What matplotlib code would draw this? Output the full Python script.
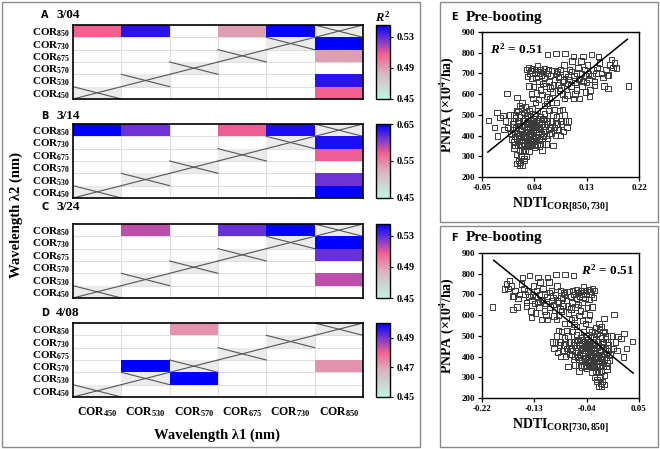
import numpy as np
import matplotlib
matplotlib.use("Agg")
import matplotlib.pyplot as plt
from matplotlib.colors import LinearSegmentedColormap, Normalize
from matplotlib.patches import Rectangle
import matplotlib.cm as cm

plt.rcParams['font.family'] = ['Liberation Serif', 'DejaVu Sans']
plt.rcParams['font.weight'] = 'bold'
plt.rcParams['axes.labelweight'] = 'bold'
plt.rcParams['axes.titleweight'] = 'bold'
plt.rcParams['mathtext.fontset'] = 'custom'
plt.rcParams['mathtext.rm'] = 'Liberation Serif:bold'
plt.rcParams['mathtext.it'] = 'Liberation Serif:italic:bold'
plt.rcParams['mathtext.bf'] = 'Liberation Serif:bold'

# ---------------- data ----------------
col_bands = ['450', '530', '570', '675', '730', '850']   # lambda1 (x)
row_bands = ['850', '730', '675', '570', '530', '450']   # lambda2 (y, top->bottom)
nan = np.nan
D_ = -1.0  # diagonal marker

panel_letters = ['A', 'B', 'C', 'D']
panel_dates = ['3/04', '3/14', '3/24', '4/08']

r2_A = [[0.507, 0.538, nan, 0.490, 0.545, D_],
        [nan, nan, nan, nan, D_, 0.545],
        [nan, nan, nan, D_, nan, 0.490],
        [nan, nan, D_, nan, nan, nan],
        [nan, D_, nan, nan, nan, 0.538],
        [D_, nan, nan, nan, nan, 0.507]]
r2_B = [[0.650, 0.612, nan, 0.572, 0.640, D_],
        [nan, nan, nan, nan, D_, 0.640],
        [nan, nan, nan, D_, nan, 0.572],
        [nan, nan, D_, nan, nan, nan],
        [nan, D_, nan, nan, nan, 0.612],
        [D_, nan, nan, nan, nan, 0.650]]
r2_C = [[nan, 0.515, nan, 0.528, 0.545, D_],
        [nan, nan, nan, nan, D_, 0.545],
        [nan, nan, nan, D_, nan, 0.528],
        [nan, nan, D_, nan, nan, nan],
        [nan, D_, nan, nan, nan, 0.515],
        [D_, nan, nan, nan, nan, nan]]
r2_D = [[nan, nan, 0.4725, nan, nan, D_],
        [nan, nan, nan, nan, D_, nan],
        [nan, nan, nan, D_, nan, nan],
        [nan, 0.500, D_, nan, nan, 0.4725],
        [nan, D_, 0.500, nan, nan, nan],
        [D_, nan, nan, nan, nan, nan]]
r2_mats = [r2_A, r2_B, r2_C, r2_D]
cbar_ranges = [(0.45, 0.545), (0.45, 0.65), (0.45, 0.545), (0.45, 0.50)]
cbar_ticks = [[0.45, 0.49, 0.53], [0.45, 0.55, 0.65], [0.45, 0.49, 0.53], [0.45, 0.47, 0.49]]

# scatter data for panel E: NDTI_COR[850,730] vs PNPA
ndti_E = [0.002, 0.004, 0.005, 0.006, 0.007, 0.008, 0.009, 0.010, 0.010, 0.011, 0.012, 0.012, 0.013, 0.014,
          0.014, 0.015, 0.015, 0.016, 0.017, 0.017, 0.018, 0.018, 0.019, 0.020, 0.020, 0.021, 0.021, 0.022,
          0.022, 0.023, 0.023, 0.024, 0.025, 0.025, 0.026, 0.026, 0.027, 0.027, 0.028, 0.028, 0.029, 0.030,
          0.030, 0.031, 0.031, 0.032, 0.033, 0.033, 0.034, 0.034, 0.035, 0.036, 0.036, 0.037, 0.038, 0.038,
          0.039, 0.040, 0.040, 0.041, 0.042, 0.043, 0.044, 0.045, 0.045, 0.046, 0.047, 0.048, 0.049, 0.050,
          0.051, 0.052, 0.053, 0.054, 0.055, 0.056, 0.058, 0.060, 0.062, 0.064,
          0.013, 0.016, 0.019, 0.024, 0.027, 0.029, 0.032, 0.035, 0.037, 0.041, 0.044, 0.047, 0.011, 0.015,
          0.020, 0.026, 0.030, 0.033, 0.039, 0.043, 0.008, 0.006, 0.003, 0.012, 0.018, 0.022, 0.016, 0.019,
          0.014, 0.025, 0.028, 0.035, 0.042, 0.048, 0.052, 0.057, 0.061, 0.066, 0.068, 0.070,
          0.072, 0.074, 0.078, 0.080, 0.083, 0.086, 0.088, 0.090, 0.092, 0.075, 0.070, 0.082, 0.094, 0.072,
          0.060, 0.085, 0.096, 0.065, 0.058, 0.062,
          -0.039, -0.028, -0.024, -0.023, -0.019, -0.014, -0.010, -0.007, -0.005, -0.002, 0.000, -0.012,
          0.027, 0.028, 0.030, 0.032, 0.034, 0.036, 0.037, 0.039, 0.040, 0.042, 0.043, 0.044, 0.045, 0.046,
          0.048, 0.049, 0.050, 0.051, 0.052, 0.053, 0.054, 0.055, 0.056, 0.057, 0.058, 0.060, 0.061, 0.062,
          0.063, 0.064, 0.065, 0.067, 0.068, 0.070, 0.071, 0.073, 0.074, 0.075, 0.077, 0.078, 0.080, 0.081,
          0.082, 0.084, 0.085, 0.086, 0.088, 0.090, 0.091, 0.093, 0.094, 0.096, 0.097, 0.098, 0.100, 0.101,
          0.103, 0.104, 0.105, 0.107, 0.107, 0.108, 0.110, 0.112, 0.113, 0.115, 0.116, 0.118, 0.118, 0.120,
          0.121, 0.122, 0.124, 0.124, 0.126, 0.128, 0.130, 0.131, 0.133, 0.134, 0.136, 0.138, 0.139, 0.141,
          0.143, 0.144, 0.146, 0.148, 0.150, 0.152, 0.155, 0.158, 0.160, 0.163, 0.166, 0.167, 0.168, 0.170,
          0.173, 0.175, 0.178, 0.181, 0.202, 0.135, 0.128, 0.110, 0.092, 0.088, 0.066, 0.078, 0.070, 0.083,
          0.095, 0.035, 0.038, 0.042, 0.047, 0.031,
          0.001, 0.005, 0.009, 0.055, 0.063, 0.067, 0.076, 0.079, 0.087, 0.099, 0.053, 0.049, 0.010, 0.004]
pnpa = [430, 470, 500, 395, 355, 440, 520, 585, 265, 410, 355, 470, 280, 545,
        330, 450, 255, 390, 500, 300, 425, 355, 560, 470, 255, 330, 395, 445,
        510, 365, 280, 480, 420, 540, 350, 455, 390, 300, 500, 430, 360, 470,
        405, 325, 520, 445, 380, 490, 355, 420, 460, 400, 530, 440, 370, 480,
        415, 455, 345, 500, 430, 390, 470, 360, 520, 440, 405, 460, 380, 490,
        430, 410, 455, 360, 480, 420, 445, 400, 470, 430,
        400, 430, 410, 395, 460, 440, 410, 430, 470, 395, 420, 480, 460, 490,
        375, 375, 350, 455, 385, 450, 485, 415, 455, 515, 530, 290, 270, 330,
        370, 330, 355, 375, 355, 420, 470, 505, 455, 410, 440, 470,
        500, 525, 490, 455, 520, 470, 525, 420, 500, 440, 410, 430, 470, 352,
        360, 400, 440, 520, 545, 555,
        472, 440, 512, 398, 488, 496, 470, 604, 440, 500, 410, 430,
        720, 685, 730, 700, 715, 677, 725, 637, 700, 720, 680, 605, 735, 700,
        660, 720, 717, 620, 690, 597, 710, 650, 709, 680, 725, 640, 588, 700,
        790, 717, 660, 629, 690, 715, 610, 645, 714, 670, 795, 700, 709, 645,
        680, 685, 720, 630, 660, 669, 740, 795, 700, 596, 650, 685, 720, 670,
        640, 709, 760, 580, 782, 690, 655, 701, 620, 730, 670, 677, 580, 760,
        700, 640, 660, 782, 720, 690, 655, 740, 701, 670, 620, 790, 690, 717,
        660, 644, 700, 730, 782, 750, 700, 680, 640, 720, 690, 628, 693, 740,
        766, 730, 750, 726, 640, 590, 610, 600, 580, 600, 580, 560, 560, 620,
        625, 600, 580, 560, 575, 640,
        380, 340, 310, 395, 385, 470, 400, 430, 455, 470, 330, 350, 385, 370]
fit_E = (2270.0, 411.0)        # slope, intercept
fit_E_xrange = [-0.04, 0.20]
r2_E = 0.51

# ---------------- figure ----------------
W, H = 660, 449
fig = plt.figure(figsize=(W / 100, H / 100), dpi=100)
fig.patch.set_facecolor('white')

def fx(px):
    return px / W

def fy(py):
    return 1 - py / H

# panel frames
for (x0, y0, x1, y1) in [(2, 2, 420, 447), (440, 2, 658, 222), (440, 226, 658, 447)]:
    fig.add_artist(Rectangle((fx(x0), fy(y1)), fx(x1 - x0), (y1 - y0) / H,
                             transform=fig.transFigure, fill=False,
                             edgecolor='#8a8a8a', lw=1.0))

cmap = LinearSegmentedColormap.from_list(
    'r2', [(0.0, '#bff5e0'), (0.35, '#d8b6c0'), (0.6, '#f46090'),
           (0.8, '#7636d2'), (1.0, '#0000ff')])

heat_tops = [25, 124, 224, 323]
title_y = [15, 116, 207, 313]
for k in range(4):
    top = heat_tops[k]
    ax = fig.add_axes([fx(73), fy(top + 74), fx(290), 74 / H])
    mat = np.array(r2_mats[k], dtype=float)
    vmin, vmax = cbar_ranges[k]
    norm = Normalize(vmin, vmax)
    nr, nc = mat.shape
    for i in range(nr):
        for j in range(nc):
            v = mat[i, j]
            if v == D_:
                ax.add_patch(Rectangle((j, i), 1, 1, facecolor='#ebebeb', edgecolor='none'))
                ax.plot([j, j + 1], [i, i + 1], color='#555555', lw=0.8)
                ax.plot([j, j + 1], [i + 1, i], color='#555555', lw=0.8)
            elif not np.isnan(v):
                ax.add_patch(Rectangle((j, i), 1, 1, facecolor=cmap(norm(v)), edgecolor='none'))
    for t in range(1, nc):
        ax.axvline(t, color='#dedede', lw=0.8, zorder=0.5)
    for t in range(1, nr):
        ax.axhline(t, color='#dedede', lw=0.8, zorder=0.5)
    ax.set_xlim(0, nc)
    ax.set_ylim(nr, 0)
    ax.set_yticks(np.arange(nr) + 0.5)
    ax.set_yticklabels(['COR$_{%s}$' % b for b in row_bands], fontsize=8, fontweight='bold')
    ax.tick_params(axis='y', length=0, pad=2)
    ax.set_xticks(np.arange(nc) + 0.5)
    if k == 3:
        ax.set_xticklabels(['COR$_{%s}$' % b for b in col_bands], fontsize=8.5, fontweight='bold')
        ax.tick_params(axis='x', length=0, pad=6)
    else:
        ax.set_xticklabels([])
        ax.tick_params(axis='x', length=0)
    for s in ax.spines.values():
        s.set_linewidth(1.2)
        s.set_color('black')
    fig.text(fx(41), fy(title_y[k]), panel_letters[k], family='DejaVu Sans',
             fontsize=7, fontweight='bold', va='center', ha='left')
    fig.text(fx(56), fy(title_y[k]), panel_dates[k], fontsize=9.5,
             fontweight='bold', va='center', ha='left')
    # colorbar
    cax = fig.add_axes([fx(376), fy(top + 74), fx(14), 74 / H])
    cb = fig.colorbar(cm.ScalarMappable(norm=norm, cmap=cmap), cax=cax,
                      ticks=cbar_ticks[k])
    cb.ax.set_yticklabels(['%.2f' % t for t in cbar_ticks[k]], fontsize=7.5, fontweight='bold')
    cb.ax.tick_params(length=2.5, width=0.8, pad=2)
    cb.outline.set_linewidth(1.0)
    if k == 0:
        cax.set_title('$\\mathit{R}^{2}$', fontsize=9, pad=2)

fig.text(fx(217), fy(435), 'Wavelength λ1 (nm)', fontsize=10.5,
         fontweight='bold', ha='center', va='center')
fig.text(fx(16), fy(215), 'Wavelength λ2 (nm)', fontsize=10.5,
         fontweight='bold', ha='center', va='center', rotation=90)

# ---------------- scatter panels ----------------
x_E = np.array(ndti_E)
y_E = np.array(pnpa)
specs = [
    dict(top=32, letter='E', ty=17, x=x_E, xlim=(-0.05, 0.22),
         xticks=[-0.05, 0.04, 0.13, 0.22], xlabel='NDTI$_{\\mathrm{COR[850,730]}}$',
         sign=1.0, r2pos=(0.05, 0.93), r2ha='left'),
    dict(top=253, letter='F', ty=238, x=-x_E, xlim=(-0.22, 0.05),
         xticks=[-0.22, -0.13, -0.04, 0.05], xlabel='NDTI$_{\\mathrm{COR[730,850]}}$',
         sign=-1.0, r2pos=(0.97, 0.93), r2ha='right'),
]
for sp in specs:
    ax = fig.add_axes([fx(482), fy(sp['top'] + 145), fx(157), 145 / H])
    ax.scatter(sp['x'], y_E, marker='s', s=15, facecolors='none',
               edgecolors='#3a3a3a', linewidths=0.7)
    lx = np.array(fit_E_xrange)
    ly = fit_E[0] * lx + fit_E[1]
    ax.plot(sp['sign'] * lx, ly, color='black', lw=1.1)
    ax.set_xlim(*sp['xlim'])
    ax.set_ylim(200, 900)
    ax.set_xticks(sp['xticks'])
    ax.set_xticklabels(['%.2f' % t for t in sp['xticks']], fontsize=6.5, fontweight='bold')
    ax.set_yticks(range(200, 901, 100))
    ax.set_yticklabels([str(v) for v in range(200, 901, 100)], fontsize=6.5, fontweight='bold')
    ax.tick_params(length=3, width=0.9, pad=2)
    for s in ax.spines.values():
        s.set_linewidth(1.0)
    ax.set_xlabel(sp['xlabel'], fontsize=10, fontweight='bold', labelpad=3)
    ax.set_ylabel('PNPA (×10$^{4}$/ha)', fontsize=10, fontweight='bold', labelpad=3)
    ax.text(sp['r2pos'][0], sp['r2pos'][1], '$\\mathit{R}^{2}$ = %.2f' % r2_E,
            transform=ax.transAxes, fontsize=9.5, fontweight='bold', ha=sp['r2ha'], va='top')
    fig.text(fx(451), fy(sp['ty']), sp['letter'], family='DejaVu Sans',
             fontsize=7, fontweight='bold', va='center', ha='left')
    fig.text(fx(466), fy(sp['ty']), 'Pre-booting', fontsize=11,
             fontweight='bold', va='center', ha='left')

fig.savefig('out.png', dpi=100, facecolor='white')
